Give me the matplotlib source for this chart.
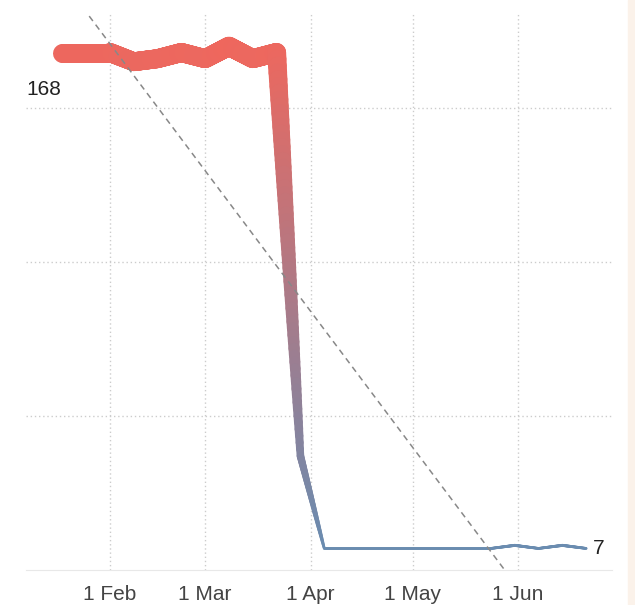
import numpy as np
import pandas as pd
import matplotlib
matplotlib.use("Agg")
import matplotlib.pyplot as plt
import matplotlib.dates as mdates
from matplotlib.collections import LineCollection
from matplotlib.colors import to_rgb
from matplotlib.patches import Rectangle

plt.rcParams["font.family"] = ["Liberation Sans", "DejaVu Sans"]

# weekly values
dates = pd.date_range("2021-01-18", periods=23, freq="7D")
values = [168, 168, 168, 165, 166, 168, 166, 170, 166, 168, 37,
          7, 7, 7, 7, 7, 7, 7, 7, 8, 7, 8, 7]
month_ticks = pd.to_datetime(["2021-02-01", "2021-03-01", "2021-04-01",
                              "2021-05-01", "2021-06-01"])
month_labels = ["1 Feb", "1 Mar", "1 Apr", "1 May", "1 Jun"]

hi_col = np.array(to_rgb("#ef675d"))
lo_col = np.array(to_rgb("#6a8cb0"))

fig = plt.figure(figsize=(6.35, 6.05), dpi=100)
fig.patches.append(Rectangle((628 / 635, 0), 7 / 635, 1, transform=fig.transFigure,
                             color="#fbf2ea", zorder=0))
ax = fig.add_axes([26 / 635, 1 - 570 / 605, 586 / 635, 556 / 605])

x = mdates.date2num(dates)
y = np.asarray(values, dtype=float)
vmin, vmax = y.min(), y.max()

# split each segment into short pieces so colour and width can follow the value
segs, cols, widths = [], [], []
for i in range(len(x) - 1):
    t = np.linspace(0, 1, 61)
    xs = x[i] + (x[i + 1] - x[i]) * t
    ys = y[i] + (y[i + 1] - y[i]) * t
    for j in range(len(t) - 1):
        segs.append([(xs[j], ys[j]), (xs[j + 1], ys[j + 1])])
        v = (ys[j] + ys[j + 1]) / 2
        f = (v - vmin) / (vmax - vmin)
        cols.append(lo_col + (hi_col - lo_col) * f)
        widths.append(2.7 * (v / 7) ** 0.614 / 1.389)  # px -> pt

lc = LineCollection(segs, colors=cols, linewidths=widths, capstyle="round",
                    joinstyle="round", zorder=3)
ax.add_collection(lc)

# linear trend over the weeks
idx = np.arange(len(y))
slope, icpt = np.polyfit(idx, y, 1)
xt = np.array([x[0] - 14, x[-1] + 14])
yt = icpt + slope * (xt - x[0]) / 7
ax.plot(xt, yt, color="#888888", lw=1.1, ls=(0, (4, 3)), zorder=4)

ax.set_xlim(mdates.date2num(pd.Timestamp("2021-01-07 08:00")),
            mdates.date2num(pd.Timestamp("2021-06-28 14:00")))
ax.set_ylim(0, 180.5)

ax.set_xticks(mdates.date2num(month_ticks))
ax.set_xticklabels(month_labels)
ax.set_yticks([50, 100, 150])
ax.set_yticklabels([])
ax.tick_params(axis="both", length=0)
ax.tick_params(axis="x", pad=11, labelsize=15, labelcolor="#444444")
ax.grid(True, color="#cccccc", ls=(0, (1, 2)), lw=1)

for s in ["top", "right", "left"]:
    ax.spines[s].set_visible(False)
ax.spines["bottom"].set_color("#e8e8e8")

ax.annotate(f"{values[0]}", xy=(0, values[0]), xycoords=("axes fraction", "data"),
            xytext=(0, -37), textcoords="offset pixels", ha="left", va="center",
            fontsize=15, color="#222222")
ax.annotate(f"{values[-1]}", xy=(x[-1], values[-1]), xytext=(7, 0),
            textcoords="offset pixels", ha="left", va="center",
            fontsize=15, color="#222222")

fig.savefig("out.png", dpi=100)
